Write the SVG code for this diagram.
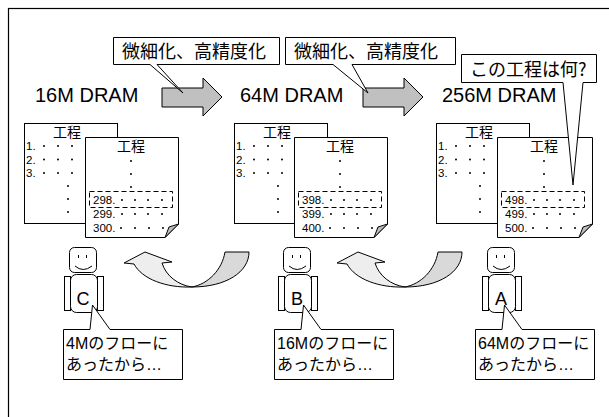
<svg xmlns="http://www.w3.org/2000/svg" width="609" height="417" viewBox="0 0 609 417">
  <style>
    .ln { fill: #fff; stroke: #000; stroke-width: 1; }
    .frame { fill: #fff; stroke: #000; stroke-width: 1.2; }
    .big { font-family: "Liberation Sans", Arial, sans-serif; font-size: 20px; fill: #000; }
    .jp { font-family: "Noto Sans CJK JP", sans-serif; font-size: 18px; fill: #000; }
    .ttl { font-family: "Noto Sans CJK JP", sans-serif; font-size: 14px; fill: #000; text-anchor: middle; }
    .num { font-family: "Liberation Sans", Arial, sans-serif; font-size: 11.5px; fill: #000; }
    .say { font-family: "Liberation Sans", "Noto Sans CJK JP", sans-serif; font-size: 16px; fill: #000; }
    .chr { font-family: "Liberation Sans", Arial, sans-serif; font-size: 18px; fill: #000; text-anchor: middle; }
    .dots { fill: none; stroke: #000; stroke-width: 2; stroke-linecap: round; }
    .dash { fill: none; stroke: #000; stroke-width: 1; stroke-dasharray: 5 3; }
    .flap { fill: #bdbdbd; stroke: #000; stroke-width: 1; }
    .thin { fill: none; stroke: #000; stroke-width: 1; }
    .gray { fill: #c0c0c0; stroke: #000; stroke-width: 1; }
    .lite { fill: #eeeeee; stroke: #000; stroke-width: 1; }
    .mid { fill: #d9d9d9; stroke: #000; stroke-width: 1; }
  </style>

  <rect width="609" height="417" fill="#fff"/>
  <rect class="frame" x="8.5" y="8.5" width="620" height="430"/>

  <!-- generation labels -->
  <g id="gen-16m"><text class="big" x="35" y="102">16M DRAM</text></g>
  <g id="gen-64m"><text class="big" x="240" y="102">64M DRAM</text></g>
  <g id="gen-256m"><text class="big" x="442" y="102">256M DRAM</text></g>

  <!-- straight block arrows and curved hand-over arrows -->
  <g id="connectors">
    <polygon class="gray" points="162,88 203,88 203,78 222,97 203,116 203,107 162,107"/>
    <polygon class="gray" points="363,88 404,88 404,78 423,97 404,116 404,107 363,107"/>
    <g id="handover-1">
      <path class="mid" d="M192 287 C208 284 222 270 225 252 L249 252 C249 272 226 287 192 287 Z"/>
      <path class="lite" d="M124 263 L145 252 L172 262 L162 263 C166 276 178 285 192 287 C166 288 142 279 134 264 Z"/>
    </g>
    <g id="handover-2" transform="translate(213,0)">
      <path class="mid" d="M192 287 C208 284 222 270 225 252 L249 252 C249 272 226 287 192 287 Z"/>
      <path class="lite" d="M124 263 L145 252 L172 262 L162 263 C166 276 178 285 192 287 C166 288 142 279 134 264 Z"/>
    </g>
  </g>

  <!-- process sheets, one pair per generation -->
  <g id="sheets-4m">
    <rect class="ln" x="24.5" y="123.5" width="93" height="100"/>
    <text class="ttl" x="67" y="137">工程</text>
    <text class="num" x="26" y="150">1.</text>
    <text class="num" x="26" y="163.5">2.</text>
    <text class="num" x="26" y="177">3.</text>
    <path class="dots" d="M44 146h0M58 146h0M72 146h0M44 159.5h0M58 159.5h0M72 159.5h0M44 173h0M58 173h0M72 173h0M68 186h0M68 199h0M68 212h0"/>
    <path class="ln" d="M85.5 137.5 H178.5 V224 L165 237.5 H85.5 Z"/>
    <path class="flap" d="M165 237.5 L169 227 L178.5 224 Z"/>
    <text class="ttl" x="131" y="151">工程</text>
    <path class="dots" d="M131 161h0M131 174h0M131 187h0"/>
    <text class="num" x="93" y="204">298.</text>
    <text class="num" x="93" y="218">299.</text>
    <text class="num" x="93" y="232">300.</text>
    <path class="dots" d="M122 200h0M135 200h0M148 200h0M162 200h0M122 214h0M135 214h0M148 214h0M162 214h0M121 228h0M135 228h0M149 228h0M163 228h0"/>
    <rect class="dash" x="89.5" y="191.5" width="83" height="16"/>
  </g>

  <g id="sheets-16m" transform="translate(210,0)">
    <rect class="ln" x="24.5" y="123.5" width="93" height="100"/>
    <text class="ttl" x="67" y="137">工程</text>
    <text class="num" x="26" y="150">1.</text>
    <text class="num" x="26" y="163.5">2.</text>
    <text class="num" x="26" y="177">3.</text>
    <path class="dots" d="M44 146h0M58 146h0M72 146h0M44 159.5h0M58 159.5h0M72 159.5h0M44 173h0M58 173h0M72 173h0M68 186h0M68 199h0M68 212h0"/>
    <path class="ln" d="M84.5 137.5 H177.5 V224 L164 237.5 H84.5 Z"/>
    <path class="flap" d="M164 237.5 L168 227 L177.5 224 Z"/>
    <text class="ttl" x="130" y="151">工程</text>
    <path class="dots" d="M130 161h0M130 174h0M130 187h0"/>
    <text class="num" x="92" y="204">398.</text>
    <text class="num" x="92" y="218">399.</text>
    <text class="num" x="92" y="232">400.</text>
    <path class="dots" d="M121 200h0M134 200h0M147 200h0M161 200h0M121 214h0M134 214h0M147 214h0M161 214h0M120 228h0M134 228h0M148 228h0M162 228h0"/>
    <rect class="dash" x="88.5" y="191.5" width="83" height="16"/>
  </g>

  <g id="sheets-64m" transform="translate(412,0)">
    <rect class="ln" x="24.5" y="123.5" width="93" height="100"/>
    <text class="ttl" x="67" y="137">工程</text>
    <text class="num" x="26" y="150">1.</text>
    <text class="num" x="26" y="163.5">2.</text>
    <text class="num" x="26" y="177">3.</text>
    <path class="dots" d="M44 146h0M58 146h0M72 146h0M44 159.5h0M58 159.5h0M72 159.5h0M44 173h0M58 173h0M72 173h0M68 186h0M68 199h0M68 212h0"/>
    <path class="ln" d="M85.5 137.5 H180.5 V224 L167 237.5 H85.5 Z"/>
    <path class="flap" d="M167 237.5 L171 227 L180.5 224 Z"/>
    <text class="ttl" x="132" y="151">工程</text>
    <path class="dots" d="M132 161h0M132 174h0M132 187h0"/>
    <text class="num" x="93" y="204">498.</text>
    <text class="num" x="93" y="218">499.</text>
    <text class="num" x="93" y="232">500.</text>
    <path class="dots" d="M122 200h0M135 200h0M148 200h0M162 200h0M122 214h0M135 214h0M148 214h0M162 214h0M121 228h0M135 228h0M149 228h0M163 228h0"/>
    <rect class="dash" x="89.5" y="191.5" width="83" height="16"/>
  </g>

  <!-- top callouts -->
  <g id="note-shrink-1">
    <path class="ln" d="M113.5 37.5 H279.5 V64.5 H157 L183 93 L150 64.5 H113.5 Z"/>
    <text class="jp" x="122" y="58">微細化、高精度化</text>
  </g>
  <g id="note-shrink-2">
    <path class="ln" d="M285.5 37.5 H455.5 V64.5 H352 L368 93 L333 64.5 H285.5 Z"/>
    <text class="jp" x="294" y="58">微細化、高精度化</text>
  </g>
  <g id="note-question">
    <path class="ln" d="M461.5 54.5 H596.5 V82.5 H583 L573 185 L563 82.5 H461.5 Z"/>
    <text class="jp" x="470" y="76">この工程は何?</text>
  </g>

  <!-- engineers -->
  <g id="engineer-c">
    <rect class="ln" x="64.5" y="276.5" width="6" height="34"/>
    <rect class="ln" x="97.5" y="276.5" width="6" height="34"/>
    <rect class="ln" x="70.5" y="274.5" width="27" height="38" rx="6"/>
    <rect class="ln" x="69.5" y="247.5" width="27" height="25" rx="5"/>
    <path class="thin" d="M78.5 255v3M86.5 255v3M75 266 Q83 273 92 266"/>
    <text class="chr" x="83" y="305">C</text>
  </g>
  <g id="engineer-b" transform="translate(214,0)">
    <rect class="ln" x="64.5" y="276.5" width="6" height="34"/>
    <rect class="ln" x="97.5" y="276.5" width="6" height="34"/>
    <rect class="ln" x="70.5" y="274.5" width="27" height="38" rx="6"/>
    <rect class="ln" x="69.5" y="247.5" width="27" height="25" rx="5"/>
    <path class="thin" d="M78.5 255v3M86.5 255v3M75 266 Q83 273 92 266"/>
    <text class="chr" x="83" y="305">B</text>
  </g>
  <g id="engineer-a" transform="translate(418,0)">
    <rect class="ln" x="64.5" y="276.5" width="6" height="34"/>
    <rect class="ln" x="97.5" y="276.5" width="6" height="34"/>
    <rect class="ln" x="70.5" y="274.5" width="27" height="38" rx="6"/>
    <rect class="ln" x="69.5" y="247.5" width="27" height="25" rx="5"/>
    <path class="thin" d="M78.5 255v3M86.5 255v3M75 266 Q83 273 92 266"/>
    <text class="chr" x="83" y="305">A</text>
  </g>

  <!-- speech bubbles -->
  <g id="say-c">
    <path class="ln" d="M63.5 329.5 H90 L92.5 305 L110 329.5 H182.5 V379.5 H63.5 Z"/>
    <text class="say" x="66" y="349">4Mのフローに</text>
    <text class="say" x="66" y="370">あったから…</text>
  </g>
  <g id="say-b" transform="translate(211,0)">
    <path class="ln" d="M63.5 329.5 H90 L92.5 305 L110 329.5 H182.5 V379.5 H63.5 Z"/>
    <text class="say" x="66" y="349">16Mのフローに</text>
    <text class="say" x="66" y="370">あったから…</text>
  </g>
  <g id="say-a" transform="translate(412,0)">
    <path class="ln" d="M63.5 329.5 H90 L92.5 305 L110 329.5 H182.5 V379.5 H63.5 Z"/>
    <text class="say" x="66" y="349">64Mのフローに</text>
    <text class="say" x="66" y="370">あったから…</text>
  </g>
</svg>
